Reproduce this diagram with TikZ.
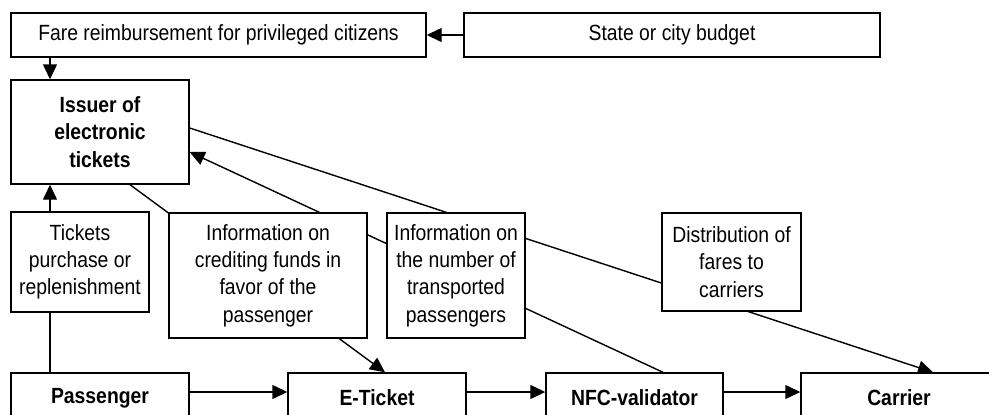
\documentclass[tikz,border=0pt]{standalone}
\usepackage{fontspec}
\setmainfont{Liberation Sans}[FakeStretch=0.88]
\usetikzlibrary{arrows.meta,positioning,backgrounds}

\begin{document}
\begin{tikzpicture}[
    x=1pt, y=-1pt,
    box/.style={
        rectangle,
        draw=black,
        fill=white,
        line width=1.4pt,
        inner sep=1pt,
        align=center,
        font=\fontsize{22}{27.3}\selectfont
    },
    bold/.style={font=\fontsize{22}{27.3}\selectfont\bfseries},
    flow/.style={-{Triangle[length=15pt,width=14pt]}, line width=1.4pt}
]
    \useasboundingbox (0,0) rectangle (989,415);

    % Define nodes
    \node[box, minimum width=415pt, minimum height=44pt] (fare) at (218.5,35) {Fare reimbursement for privileged citizens};
    \node[box, minimum width=416pt, minimum height=44pt] (budget) at (672,35) {State or city budget};
    \node[box, bold, minimum width=178pt, minimum height=104pt] (issuer) at (100,132) {Issuer of \\ electronic \\ tickets};
    \node[box, minimum width=138pt, minimum height=100pt] (purchase) at (80,262) {Tickets \\ purchase or \\ replenishment};
    \node[box, minimum width=198pt, minimum height=125pt] (credit) at (268,275.5) {Information on \\ crediting funds in \\ favor of the \\ passenger};
    \node[box, minimum width=138pt, minimum height=125pt] (count) at (456,275.5) {Information on \\ the number of \\ transported \\ passengers};
    \node[box, minimum width=139pt, minimum height=98pt] (distrib) at (731.5,262) {Distribution of \\ fares to \\ carriers};
    \node[box, bold, minimum width=178pt, minimum height=50pt] (passenger) at (100,398) {Passenger};
    \node[box, bold, minimum width=178pt, minimum height=50pt] (eticket) at (377,398) {E-Ticket};
    \node[box, bold, minimum width=177pt, minimum height=50pt] (nfc) at (634.5,398) {NFC-validator};
    \node[box, bold, minimum width=196pt, minimum height=50pt] (carrier) at (899,398) {Carrier};
    \coordinate (lane) at (50,0);

    \begin{pgfonlayer}{background}
    % Money and ticket flows
    \draw[flow] (budget.west) -- (fare.east);
    \draw[flow] (fare.south -| lane) -- (issuer.north -| lane);
    \draw[flow] (passenger.north -| lane) -- (issuer.south -| lane);

    % Lines running behind the info boxes
    \draw[flow] ([xshift=30pt]issuer.south) -- ([xshift=8pt]eticket.north);
    \draw[flow] ([xshift=28.5pt]nfc.north) -- ([yshift=-20pt]issuer.east);
    \draw[flow] ([yshift=4pt]issuer.east) -- ([xshift=34pt]carrier.north);

    % Bottom chain
    \draw[flow] ([yshift=6pt]passenger.east) -- ([yshift=6pt]eticket.west);
    \draw[flow] ([yshift=6pt]eticket.east) -- ([yshift=6pt]nfc.west);
    \draw[flow] ([yshift=6pt]nfc.east) -- ([yshift=6pt]carrier.west);
    \end{pgfonlayer}
\end{tikzpicture}
\end{document}
